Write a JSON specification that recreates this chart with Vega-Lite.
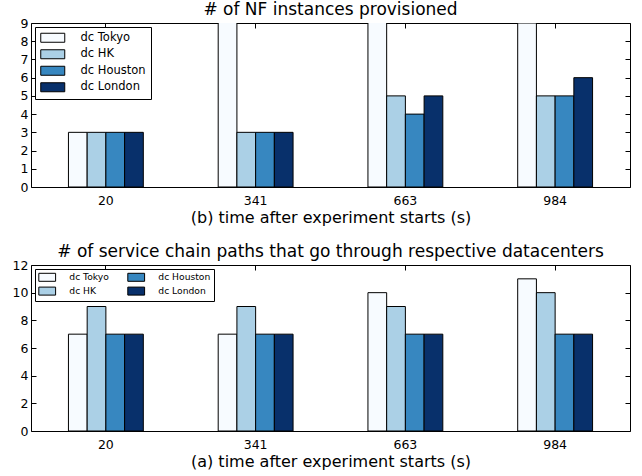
{
  "$schema": "https://vega.github.io/schema/vega-lite/v6.json",
  "padding": {"left": 11, "top": 0, "right": 0, "bottom": 0},
  "background": "white",
  "config": {
    "view": {"stroke": "black", "strokeWidth": 1},
    "axis": {"domain": false, "grid": false, "tickColor": "black", "tickSize": -5, "labelFont": "DejaVu Sans", "labelFontSize": 12.5, "labelColor": "black", "labelPadding": 8, "titleFont": "DejaVu Sans", "titleFontSize": 16, "titleFontWeight": "normal", "titleColor": "black"},
    "axisX": {"labelPadding": 12, "titlePadding": 3},
    "title": {"font": "DejaVu Sans", "fontSize": 17, "fontWeight": "normal", "color": "black", "offset": -2, "frame": "group"},
    "legend": {"symbolStrokeColor": "black", "symbolStrokeWidth": 1, "labelFont": "DejaVu Sans", "labelColor": "black", "strokeColor": "black", "fillColor": "white", "orient": "top-left", "symbolOpacity": 1}
  },
  "datasets": {
    "top": [
      {"time": "20", "dc": "dc Tokyo", "value": 3},
      {"time": "20", "dc": "dc HK", "value": 3},
      {"time": "20", "dc": "dc Houston", "value": 3},
      {"time": "20", "dc": "dc London", "value": 3},
      {"time": "341", "dc": "dc Tokyo", "value": 10},
      {"time": "341", "dc": "dc HK", "value": 3},
      {"time": "341", "dc": "dc Houston", "value": 3},
      {"time": "341", "dc": "dc London", "value": 3},
      {"time": "663", "dc": "dc Tokyo", "value": 10},
      {"time": "663", "dc": "dc HK", "value": 5},
      {"time": "663", "dc": "dc Houston", "value": 4},
      {"time": "663", "dc": "dc London", "value": 5},
      {"time": "984", "dc": "dc Tokyo", "value": 9},
      {"time": "984", "dc": "dc HK", "value": 5},
      {"time": "984", "dc": "dc Houston", "value": 5},
      {"time": "984", "dc": "dc London", "value": 6}
    ],
    "bottom": [
      {"time": "20", "dc": "dc Tokyo", "value": 7},
      {"time": "20", "dc": "dc HK", "value": 9},
      {"time": "20", "dc": "dc Houston", "value": 7},
      {"time": "20", "dc": "dc London", "value": 7},
      {"time": "341", "dc": "dc Tokyo", "value": 7},
      {"time": "341", "dc": "dc HK", "value": 9},
      {"time": "341", "dc": "dc Houston", "value": 7},
      {"time": "341", "dc": "dc London", "value": 7},
      {"time": "663", "dc": "dc Tokyo", "value": 10},
      {"time": "663", "dc": "dc HK", "value": 9},
      {"time": "663", "dc": "dc Houston", "value": 7},
      {"time": "663", "dc": "dc London", "value": 7},
      {"time": "984", "dc": "dc Tokyo", "value": 11},
      {"time": "984", "dc": "dc HK", "value": 10},
      {"time": "984", "dc": "dc Houston", "value": 7},
      {"time": "984", "dc": "dc London", "value": 7}
    ]
  },
  "vconcat": [
    {
      "width": 599,
      "height": 164,
      "title": "# of NF instances provisioned",
      "data": {"name": "top"},
      "layer": [
        {
          "mark": {"type": "bar", "stroke": "black", "strokeWidth": 1, "clip": true},
          "encoding": {
            "x": {"field": "time", "type": "nominal", "sort": ["20", "341", "663", "984"], "scale": {"paddingInner": 0.5, "paddingOuter": 0.25}, "axis": {"orient": "bottom", "title": "(b) time after experiment starts (s)", "labelAngle": 0}},
            "xOffset": {"field": "dc", "type": "nominal", "sort": ["dc Tokyo", "dc HK", "dc Houston", "dc London"], "scale": {"paddingInner": 0, "paddingOuter": 0}},
            "y": {"field": "value", "type": "quantitative", "stack": null, "scale": {"domain": [0, 9], "nice": false}, "axis": {"orient": "left", "title": null, "values": [0, 1, 2, 3, 4, 5, 6, 7, 8, 9]}},
            "color": {"field": "dc", "type": "nominal", "scale": {"domain": ["dc Tokyo", "dc HK", "dc Houston", "dc London"], "range": ["#f7fbff", "#abd0e6", "#3787c0", "#08306b"]},
              "legend": {"title": null, "offset": 4, "padding": 5, "labelFontSize": 11.5, "rowPadding": 2.5, "labelOffset": 22, "symbolOffset": 7, "symbolType": "M-2.4,-0.9H2.4V0.9H-2.4Z", "symbolSize": 100}}
          }
        },
        {
          "mark": {"type": "bar", "opacity": 0, "clip": true},
          "encoding": {
            "x": {"field": "time", "type": "nominal", "sort": ["20", "341", "663", "984"], "axis": {"orient": "top", "labels": false, "title": null, "labelPadding": 0}},
            "y": {"field": "value", "type": "quantitative", "stack": null, "scale": {"domain": [0, 9], "nice": false}, "axis": {"orient": "right", "labels": false, "title": null, "labelPadding": 0, "values": [0, 1, 2, 3, 4, 5, 6, 7, 8, 9]}}
          }
        }
      ],
      "resolve": {"axis": {"x": "independent", "y": "independent"}}
    },
    {
      "width": 599,
      "height": 166,
      "title": "# of service chain paths that go through respective datacenters",
      "data": {"name": "bottom"},
      "layer": [
        {
          "mark": {"type": "bar", "stroke": "black", "strokeWidth": 1, "clip": true},
          "encoding": {
            "x": {"field": "time", "type": "nominal", "sort": ["20", "341", "663", "984"], "scale": {"paddingInner": 0.5, "paddingOuter": 0.25}, "axis": {"orient": "bottom", "title": "(a) time after experiment starts (s)", "labelAngle": 0}},
            "xOffset": {"field": "dc", "type": "nominal", "sort": ["dc Tokyo", "dc HK", "dc Houston", "dc London"], "scale": {"paddingInner": 0, "paddingOuter": 0}},
            "y": {"field": "value", "type": "quantitative", "stack": null, "scale": {"domain": [0, 12], "nice": false}, "axis": {"orient": "left", "title": null, "values": [0, 2, 4, 6, 8, 10, 12]}},
            "color": {"field": "dc", "type": "nominal", "scale": {"domain": ["dc Tokyo", "dc HK", "dc Houston", "dc London"], "range": ["#f7fbff", "#abd0e6", "#3787c0", "#08306b"]},
              "legend": {"title": null, "columns": 2, "columnPadding": 16, "offset": 4, "padding": 3.5, "labelFontSize": 9.2, "rowPadding": 1, "labelOffset": 17.5, "symbolOffset": 4.1, "symbolType": "M-2.1,-1H2.1V1H-2.1Z", "symbolSize": 64}}
          }
        },
        {
          "mark": {"type": "bar", "opacity": 0, "clip": true},
          "encoding": {
            "x": {"field": "time", "type": "nominal", "sort": ["20", "341", "663", "984"], "axis": {"orient": "top", "labels": false, "title": null, "labelPadding": 0}},
            "y": {"field": "value", "type": "quantitative", "stack": null, "scale": {"domain": [0, 12], "nice": false}, "axis": {"orient": "right", "labels": false, "title": null, "labelPadding": 0, "values": [0, 2, 4, 6, 8, 10, 12]}}
          }
        }
      ],
      "resolve": {"axis": {"x": "independent", "y": "independent"}}
    }
  ],
  "spacing": 78,
  "bounds": "flush",
  "resolve": {"scale": {"color": "independent", "y": "independent", "x": "independent", "xOffset": "independent"}}
}
